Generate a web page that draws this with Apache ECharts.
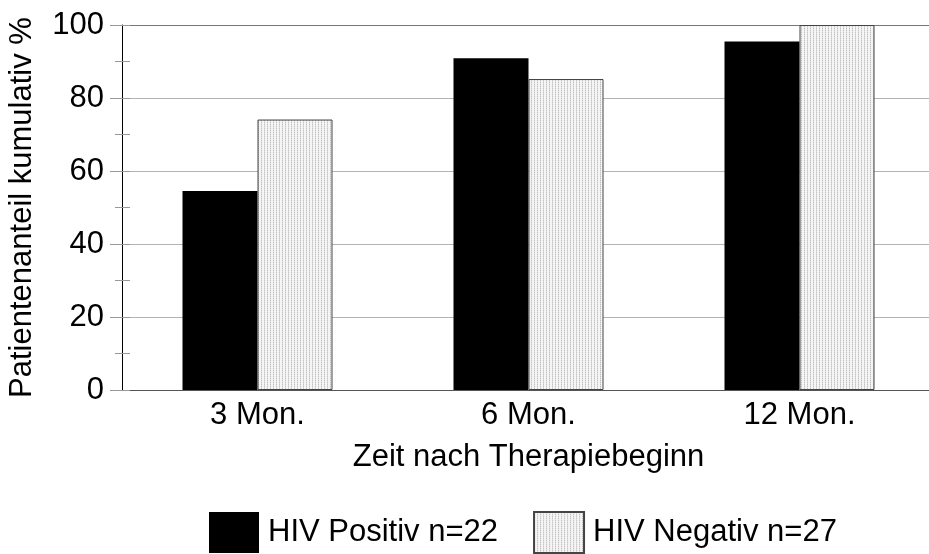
<!DOCTYPE html>
<html>
<head>
<meta charset="utf-8">
<script src="https://cdn.jsdelivr.net/npm/echarts@6/dist/echarts.min.js"></script>
<style>
  html, body { margin: 0; padding: 0; background: #fff; }
  #chart { width: 929px; height: 554px; }
</style>
</head>
<body>
<div id="chart"></div>
<script>
// Daten
const categories = ['3 Mon.', '6 Mon.', '12 Mon.'];
const hivPositiv = [54.5, 90.9, 95.5];
const hivNegativ = [74.1, 85.2, 100];
const seriesNames = ['HIV Positiv n=22', 'HIV Negativ n=27'];

// feines Punktraster fuer die hellen Balken
function makeHatch() {
  const c = document.createElement('canvas');
  c.width = 3;
  c.height = 2;
  const ctx = c.getContext('2d');
  ctx.fillStyle = '#f5f5f5';
  ctx.fillRect(0, 0, 3, 2);
  ctx.fillStyle = '#c0c0c0';
  ctx.fillRect(0, 0, 1, 1);
  ctx.fillStyle = '#dedede';
  ctx.fillRect(0, 1, 1, 1);
  return c;
}

const font = 'Liberation Sans, Arial, sans-serif';
const chart = echarts.init(document.getElementById('chart'));

chart.setOption({
  animation: false,
  textStyle: { fontFamily: font, color: '#000' },
  grid: { left: 122, top: 25, width: 813, height: 365, outerBoundsMode: 'none' },
  legend: {
    top: 511,
    left: 209,
    padding: 0,
    icon: 'rect',
    itemWidth: 50,
    itemHeight: 41,
    itemGap: 35,
    textStyle: { fontSize: 31, color: '#000', fontFamily: font, padding: [0, 0, 0, 4] },
    data: seriesNames
  },
  xAxis: [
    {
      type: 'category',
      data: categories,
      name: 'Zeit nach Therapiebeginn',
      nameLocation: 'middle',
      nameGap: 52,
      nameTextStyle: { fontSize: 31, color: '#000' },
      axisLine: { lineStyle: { color: '#555', width: 1 } },
      axisTick: { length: 8, lineStyle: { color: '#999' } },
      axisLabel: { fontSize: 31, color: '#000', margin: 10 }
    },
    {
      type: 'category',
      data: categories,
      position: 'bottom',
      axisLine: { show: false },
      axisTick: { inside: true, length: 8, lineStyle: { color: '#999' } },
      axisLabel: { show: false }
    }
  ],
  yAxis: [
    {
      type: 'value',
      min: 0,
      max: 100,
      interval: 20,
      name: 'Patientenanteil kumulativ %',
      nameLocation: 'middle',
      nameGap: 84,
      nameTextStyle: { fontSize: 31, color: '#000' },
      axisLine: { show: true, lineStyle: { color: '#000', width: 1 } },
      axisTick: { show: true, length: 12, lineStyle: { color: '#999' } },
      minorTick: { show: true, splitNumber: 2, length: 7, lineStyle: { color: '#999' } },
      axisLabel: { fontSize: 31, color: '#000', margin: 18 },
      splitLine: {
        show: true,
        lineStyle: { color: ['#999', '#b4b4b4', '#b4b4b4', '#b4b4b4', '#b4b4b4', '#777'], width: 1 }
      }
    },
    {
      type: 'value',
      min: 0,
      max: 100,
      interval: 10,
      position: 'left',
      offset: 0,
      axisLine: { show: false },
      axisTick: { show: true, inside: true, length: 8, lineStyle: { color: '#999' } },
      axisLabel: { show: false },
      splitLine: { show: false }
    }
  ],
  series: [
    {
      name: seriesNames[0],
      type: 'bar',
      data: hivPositiv,
      barWidth: 75,
      barGap: '0%',
      itemStyle: { color: '#000' }
    },
    {
      name: seriesNames[1],
      type: 'bar',
      data: hivNegativ,
      barWidth: 75,
      barGap: '0%',
      itemStyle: {
        color: { image: makeHatch(), repeat: 'repeat' },
        borderColor: '#444',
        borderWidth: 1
      }
    }
  ]
});
</script>
</body>
</html>
